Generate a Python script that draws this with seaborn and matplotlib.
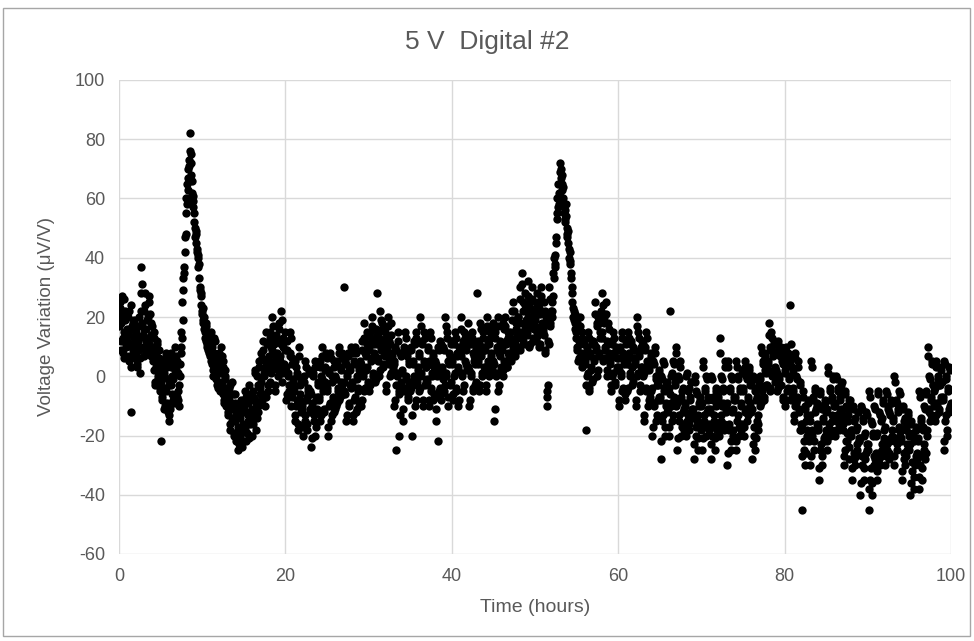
import numpy as np
import pandas as pd
import matplotlib
matplotlib.use("Agg")
import matplotlib.pyplot as plt
import seaborn as sns
from matplotlib.patches import Rectangle

# ---- data: voltage variation (uV/V), two interleaved readings per 0.1 h, hours 0..99 ----
sample_interval_h = 0.1
voltage_a = [
    20, 25, 12, 18, 27, 8, 15, 22, 10, 14,
    12, 20, 5, 16, 24, -12, 10, 18, 8, 14,
    8, 15, 3, 12, 20, 6, 28, 37, 18, 10,
    22, 28, 12, 16, 8, 20, 25, 10, 14, 18,
    10, 5, 15, -2, 8, 3, 12, 0, 6, -5,
    2, -22, -8, 5, 0, -10, 8, -5, 3, -12,
    -15, 5, -3, 8, 0, -8, 4, 10, -6, 2,
    5, -5, -10, 0, 10, 15, 25, 33, 35, 47,
    55, 60, 65, 70, 73, 82, 75, 68, 62, 57,
    55, 50, 48, 45, 42, 40, 38, 30, 28, 24,
    22, 18, 20, 15, 12, 17, 10, 14, 8, 12,
    15, 5, 10, 0, 8, 12, 3, 6, -3, 5,
    8, -5, 3, 10, -2, 5, -8, 2, 0, -10,
    -5, -12, -8, -18, -3, -10, -15, -6, -20, -9,
    -15, -22, -10, -25, -18, -12, -20, -8, -24, -16,
    -10, -18, -5, -22, -12, -15, -3, -20, -8, -14,
    -20, -5, -12, 2, -8, -18, 0, -10, 5, -6,
    -3, 8, -8, 12, 0, 5, -10, 15, 2, -5,
    5, 15, -2, 10, 20, 3, 8, -5, 12, 6,
    8, 0, 18, 5, 12, 22, -2, 10, 3, 15,
    2, -8, 12, 0, -5, 8, 15, -10, 4, -2,
    -5, -15, 5, -10, 0, -18, 10, -8, -3, -12,
    -10, -20, 0, -15, 5, -8, -18, -5, 2, -12,
    -5, -24, -10, 0, -15, 5, -20, -8, -12, -2,
    -8, 5, -15, 0, 10, -5, -12, 3, -2, 8,
    -5, -20, 2, -10, 8, -15, 0, -8, 5, -12,
    0, -10, 5, -5, 10, -8, 3, -2, 8, -6,
    30, -5, 5, -15, 0, 8, -10, 3, -3, 10,
    -2, -15, 5, -8, 10, -12, 0, -5, 3, -10,
    5, -10, 12, 0, 18, -5, 8, 2, 15, -3,
    10, -5, 15, 5, 20, 0, 12, 8, -2, 16,
    28, 5, 15, 0, 22, 10, 18, 3, 12, 8,
    15, -5, 10, 20, 5, 12, 0, 18, 8, 3,
    5, -10, 10, -25, 0, 15, -5, -20, 8, -3,
    2, -15, 10, -5, 15, 0, 8, -8, 5, -2,
    -5, 10, -20, 5, 0, 12, -10, 15, -3, 3,
    8, -5, 20, 0, 12, -10, 5, 15, -3, 3,
    -2, 10, -10, 5, 15, -5, 0, 8, -8, 3,
    5, -15, 0, -22, 10, -5, 12, -8, 3, 0,
    10, -5, 20, 0, 15, -10, 5, 8, -3, 12,
    5, -8, 12, 0, 15, -5, 8, 3, -10, 10,
    8, 20, 0, 12, -5, 15, 5, 10, 2, 18,
    3, -10, 12, 0, 15, -5, 8, 5, -3, 10,
    28, 5, 12, -5, 18, 8, 0, 15, 10, 3,
    10, -5, 20, 5, 12, 0, 15, 8, 3, 18,
    5, -15, 15, 0, 10, 20, -5, 8, 12, 3,
    10, 0, 18, 5, 20, 12, 3, 15, 8, 14,
    15, 5, 22, 10, 25, 12, 8, 18, 14, 20,
    20, 10, 30, 15, 35, 25, 12, 18, 28, 22,
    15, 32, 20, 10, 25, 18, 30, 12, 22, 16,
    20, 12, 28, 15, 25, 10, 22, 30, 18, 16,
    15, 25, 8, 20, -5, -10, 12, 30, 18, 22,
    20, 25, 35, 40, 38, 45, 55, 60, 65, 58,
    72, 70, 65, 68, 60, 55, 52, 58, 50, 48,
    45, 40, 42, 35, 30, 25, 20, 22, 18, 15,
    10, 18, 5, 12, 20, 8, 15, 3, 12, 6,
    5, -18, 10, 0, 15, -5, 8, 3, 12, -2,
    12, 5, 25, 10, 18, 0, 20, 8, 15, 22,
    15, 28, 5, 20, 10, 25, 0, 12, 18, 8,
    5, -5, 12, 0, 15, 8, -3, 10, 2, 6,
    3, -10, 10, 0, 15, -5, 8, 5, -8, 12,
    5, -5, 15, 8, 0, 12, 3, -3, 10, 6,
    5, -10, 20, 0, 15, 8, -5, 10, 3, 12,
    0, -15, 10, -5, 15, 5, -10, 3, -8, 8,
    -5, -20, 5, -10, 10, 0, -15, -3, -8, 2,
    -8, -28, 0, -15, 5, -5, -20, -10, -3, -12,
    -5, -20, 22, -10, 0, -15, 5, -8, -3, 10,
    -10, -25, 0, -15, 5, -8, -20, -5, -12, -18,
    -10, -20, 0, -15, -5, -18, -8, -2, -12, -14,
    -13, -28, 0, -20, -5, -15, -25, -10, -8, -18,
    -10, -25, 5, -15, -5, -20, 0, -12, -8, -18,
    -12, -28, 0, -20, -8, -15, -25, -5, -10, -18,
    -8, -20, 13, -15, 0, -10, -5, -18, 5, -12,
    -10, -30, 5, -18, -5, -25, 0, -12, -20, -8,
    -8, -25, 5, -15, 0, -20, -5, -10, -18, 2,
    -5, -20, 5, -12, 0, -15, -8, 3, -10, -3,
    -12, -28, 0, -20, -5, -25, -8, -15, -18, -3,
    0, -10, 10, -5, 5, -8, 8, 2, -3, 3,
    5, 18, -5, 10, 15, 0, 8, 12, 3, -2,
    2, -5, 12, 0, 8, -3, 10, 5, -8, 6,
    2, -10, 10, -5, 8, 0, 5, 24, -8, 3,
    -5, -15, 8, -10, 0, -8, 5, -12, -3, -18,
    -18, -45, -5, -25, -10, -30, -15, -20, -8, -22,
    -15, -30, 5, -20, -8, -25, -5, -12, -18, -10,
    -18, -35, -5, -25, -10, -30, -15, -22, -8, -20,
    -12, -25, 3, -18, -5, -20, -8, -15, 0, -10,
    -10, -20, 0, -15, -5, -18, -8, -12, -3, -14,
    -18, -30, -5, -25, -10, -22, -15, -28, -8, -20,
    -20, -35, -10, -28, -15, -30, -18, -25, -12, -22,
    -22, -40, -10, -30, -15, -35, -20, -28, -12, -25,
    -25, -45, -5, -35, -15, -40, -20, -30, -10, -28,
    -20, -35, -5, -28, -12, -30, -15, -25, -8, -22,
    -18, -30, -5, -25, -10, -28, -12, -22, -8, -20,
    -15, -30, 0, -22, -8, -25, -12, -18, -5, -20,
    -22, -35, -10, -28, -15, -30, -18, -25, -12, -20,
    -25, -40, -15, -32, -20, -38, -22, -30, -18, -28,
    -22, -38, -5, -30, -15, -35, -18, -25, -10, -28,
    -5, -20, 10, -12, 0, -15, -8, 5, -3, -10,
    -5, -15, 5, -10, 0, -12, -3, 3, -8, -2,
    -8, -25, 5, -15, 0, -20, -5, -12, 3, -10,
]
voltage_b = [
    17, 23, 9, 21, 13, 26, 6, 19, 11, 16,
    14, 7, 22, 11, 3, 17, 9, 13, 19, 6,
    11, 4, 17, 9, 13, 1, 22, 31, 14, 7,
    16, 24, 9, 19, 13, 27, 11, 21, 7, 17,
    8, 2, 13, -3, 6, 11, -1, 4, 9, -4,
    -2, -7, 4, -11, 1, -4, 7, -9, -1, -13,
    -3, -11, 3, -6, 6, -1, -9, 2, 7, -7,
    1, -8, -3, 4, 8, 13, 19, 29, 37, 42,
    48, 58, 63, 67, 71, 76, 72, 66, 61, 59,
    52, 47, 49, 43, 41, 37, 33, 29, 27, 21,
    19, 23, 16, 13, 18, 11, 14, 9, 13, 7,
    11, 4, 8, 2, 13, 7, -1, 4, 1, -4,
    6, -3, 1, 7, -6, 3, -9, -1, -4, -7,
    -7, -13, -4, -16, -9, -2, -14, -11, -19, -6,
    -13, -21, -17, -11, -23, -14, -19, -9, -22, -18,
    -12, -17, -7, -19, -13, -9, -21, -16, -6, -11,
    -16, -7, -11, 1, -9, -14, -3, -12, 3, -4,
    -2, 6, -6, 9, 1, 3, -7, 11, 4, -3,
    7, 13, 1, 9, 17, 4, 11, -3, 14, 3,
    6, 2, 16, 7, 11, 19, 1, 13, 4, 9,
    3, -6, 9, 1, -3, 7, 13, -7, 6, -1,
    -4, -13, 3, -8, 1, -16, 7, -6, -2, -11,
    -9, -17, -2, -13, 3, -7, -16, -4, 1, -11,
    -6, -21, -9, 1, -13, 3, -17, -7, -11, -3,
    -7, 3, -13, -1, 7, -4, -11, 2, -3, 6,
    -4, -17, 1, -9, 6, -13, -2, -7, 3, -11,
    -1, -9, 4, -4, 8, -7, 2, -3, 6, -6,
    -2, -6, 4, -13, 1, 7, -9, 2, -4, 8,
    -3, -13, 4, -7, 8, -11, -1, -4, 2, -9,
    4, -8, 9, 1, 13, -4, 7, 3, 11, -2,
    9, -3, 13, 6, 17, 1, 11, 7, -1, 14,
    11, 6, 13, 2, 19, 9, 16, 4, 11, 7,
    13, -3, 9, 17, 4, 11, 1, 14, 7, 2,
    4, -8, 9, -3, 1, 12, -6, -13, 7, -2,
    1, -11, 8, -4, 13, -1, 7, -7, 4, -3,
    -4, 9, -13, 4, -1, 11, -8, 13, -2, 2,
    7, -4, 17, 1, 11, -8, 4, 13, -2, 3,
    -1, 9, -8, 4, 13, -4, 1, 7, -6, 2,
    4, -11, 1, -7, 9, -4, 11, -6, 2, -1,
    9, -3, 17, 1, 13, -7, 4, 7, -2, 11,
    4, -6, 11, 1, 13, -4, 7, 2, -8, 9,
    7, 16, 1, 11, -3, 13, 4, 9, 3, 14,
    2, -8, 11, 1, 13, -4, 7, 4, -2, 9,
    7, 4, 11, -3, 16, 7, 1, 13, 9, 2,
    9, -3, 17, 4, 11, 1, 13, 7, 2, 16,
    4, -11, 13, 1, 9, 17, -3, 7, 11, 2,
    9, 2, 16, 4, 17, 11, 3, 13, 7, 12,
    13, 6, 19, 9, 22, 11, 7, 16, 13, 18,
    18, 9, 26, 14, 31, 22, 11, 17, 24, 19,
    14, 27, 19, 11, 23, 17, 26, 13, 21, 17,
    19, 13, 24, 14, 23, 11, 21, 27, 17, 16,
    14, 22, 9, 18, -7, -3, 11, 26, 17, 21,
    22, 27, 33, 41, 37, 47, 53, 57, 62, 61,
    69, 67, 63, 64, 58, 53, 56, 54, 47, 49,
    43, 38, 39, 33, 28, 23, 19, 21, 16, 13,
    9, 16, 6, 11, 17, 7, 13, 4, 11, 7,
    4, -3, 9, 1, 13, -4, 7, 2, 11, -1,
    11, 6, 21, 9, 17, 2, 18, 7, 13, 19,
    13, 24, 6, 18, 9, 21, 2, 11, 16, 7,
    4, -3, 11, 1, 13, 7, -2, 9, 3, 6,
    2, -8, 9, 1, 13, -4, 7, 4, -6, 11,
    4, -4, 13, 7, 1, 11, 3, -2, 9, 6,
    4, -8, 17, 1, 13, 7, -3, 9, 3, 11,
    1, -13, 9, -4, 13, 4, -8, 2, -7, 7,
    -4, -17, 4, -9, 8, -1, -13, -3, -7, 1,
    -7, -22, -1, -13, 4, -4, -17, -9, -2, -11,
    -4, -17, -6, -9, 1, -13, 4, -7, -2, 8,
    -9, -21, -1, -13, 3, -7, -17, -4, -11, -16,
    -9, -18, 1, -13, -4, -16, -7, -2, -11, -13,
    -11, -23, -2, -17, -6, -13, -21, -9, -7, -16,
    -9, -21, 3, -13, -4, -17, -1, -11, -7, -16,
    -11, -23, -1, -17, -7, -13, -21, -4, -9, -16,
    -7, -18, 8, -13, -1, -9, -4, -16, 3, -11,
    -9, -26, 3, -16, -4, -22, -1, -11, -18, -7,
    -7, -22, 3, -13, -1, -17, -4, -9, -16, 1,
    -4, -17, 3, -11, -1, -13, -7, 2, -9, -2,
    -11, -23, -1, -17, -4, -21, -7, -13, -16, -2,
    -1, -9, 8, -4, 4, -7, 7, 1, -3, 2,
    4, 14, -4, 9, 13, 1, 7, 11, 2, -1,
    1, -4, 9, -1, 7, -3, 8, 4, -7, 4,
    1, -8, 8, -4, 7, -1, 4, 11, -7, 2,
    -4, -13, 6, -9, -1, -7, 3, -11, -2, -16,
    -16, -27, -7, -22, -11, -26, -13, -18, -9, -21,
    -13, -27, 3, -18, -7, -22, -4, -11, -16, -9,
    -17, -31, -6, -23, -11, -27, -14, -21, -9, -18,
    -11, -22, 1, -16, -4, -18, -7, -13, -1, -9,
    -9, -18, -1, -13, -4, -16, -7, -11, -2, -13,
    -16, -27, -6, -22, -11, -19, -13, -24, -8, -18,
    -18, -31, -11, -26, -14, -27, -17, -23, -12, -21,
    -21, -36, -11, -27, -14, -31, -19, -26, -13, -23,
    -23, -38, -7, -31, -16, -36, -19, -27, -11, -26,
    -19, -32, -6, -26, -13, -27, -14, -23, -9, -21,
    -17, -27, -6, -23, -11, -26, -13, -21, -9, -18,
    -14, -27, -2, -21, -9, -23, -11, -17, -6, -18,
    -21, -32, -11, -26, -14, -27, -17, -23, -13, -19,
    -23, -36, -16, -29, -19, -34, -21, -27, -17, -26,
    -21, -34, -7, -27, -14, -31, -17, -23, -11, -26,
    -6, -18, 7, -11, -1, -13, -7, 4, -3, -9,
    -4, -13, 3, -9, -1, -11, -3, 2, -7, -2,
    -7, -22, 4, -13, -1, -18, -4, -11, 2, -9,
]
time_a = np.arange(len(voltage_a)) * sample_interval_h
time_b = time_a + sample_interval_h / 2

x_ticks = [0, 20, 40, 60, 80, 100]
y_ticks = [-60, -40, -20, 0, 20, 40, 60, 80, 100]
title = "5 V  Digital #2"
x_label = "Time (hours)"
y_label = "Voltage Variation (\u03bcV/V)"

df = pd.DataFrame({
    "time": np.concatenate([time_a, time_b]),
    "voltage": np.concatenate([voltage_a, voltage_b]),
}).sort_values("time")

# ---- styling ----
sns.set_theme(style="white")
plt.rcParams["font.family"] = ["Liberation Sans", "DejaVu Sans"]
plt.rcParams["axes.unicode_minus"] = False
text_color = "#595959"
grid_color = "#d9d9d9"

fig = plt.figure(figsize=(9.74, 6.41), dpi=100)
ax = fig.add_axes([119 / 974, 1 - 554 / 641, (951 - 119) / 974, (554 - 80) / 641])

sns.scatterplot(data=df, x="time", y="voltage", ax=ax, color="black",
                s=36, linewidth=0, zorder=3, legend=False)

ax.set_xlim(0, 100)
ax.set_ylim(-60, 100)
ax.set_xticks(x_ticks)
ax.set_yticks(y_ticks)
ax.grid(True, color=grid_color, linewidth=1.0, zorder=0)
for s in ax.spines.values():
    s.set_visible(False)
ax.tick_params(axis="y", length=6, color=grid_color, width=1.0, colors=text_color,
               labelsize=13, pad=4)
ax.tick_params(axis="x", length=0, colors=text_color, labelsize=13, pad=10)
for lab in ax.get_yticklabels() + ax.get_xticklabels():
    lab.set_color(text_color)

ax.set_xlabel(x_label, color=text_color, fontsize=14, labelpad=10)
ax.set_ylabel(y_label, color=text_color, fontsize=13.5, labelpad=14)
fig.text(0.5, 1 - 42 / 641, title, ha="center", va="center",
         color=text_color, fontsize=19)

fig.patches.append(Rectangle((3 / 974, 5 / 641), 967 / 974, 628 / 641,
                             transform=fig.transFigure, fill=False,
                             edgecolor="#a6a6a6", linewidth=1.0))

fig.savefig("out.png", dpi=100, facecolor="white")
